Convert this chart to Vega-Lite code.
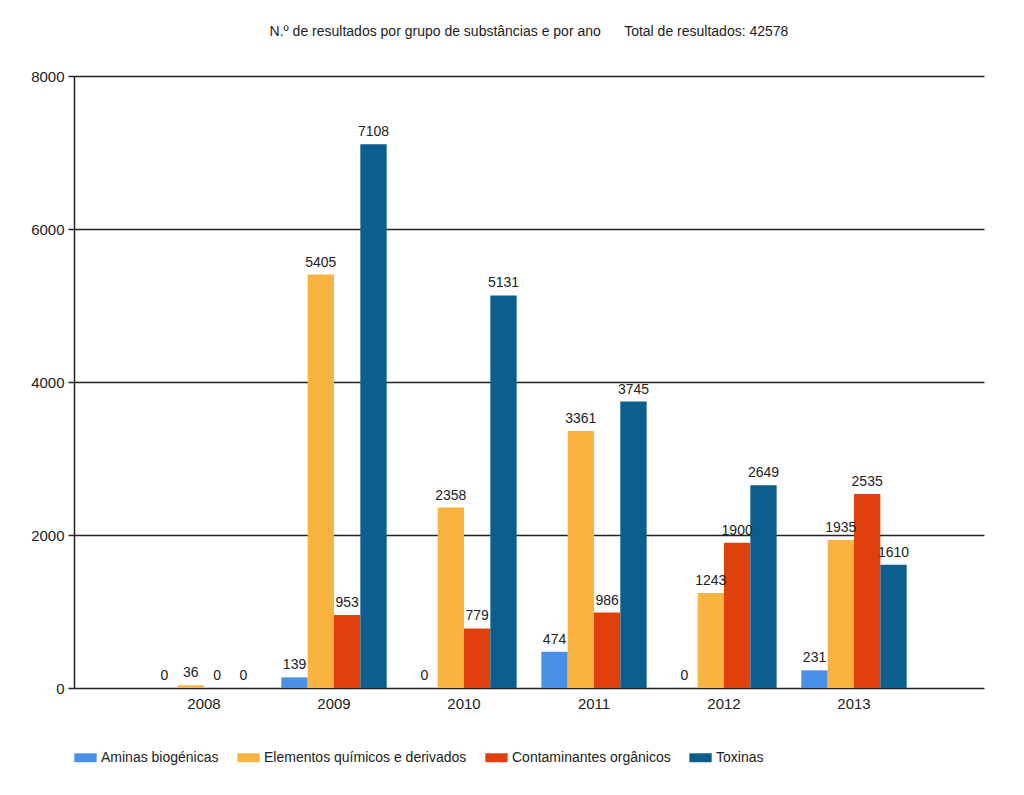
{
  "$schema": "https://vega.github.io/schema/vega-lite/v6.json",
  "width": 1024,
  "height": 795,
  "autosize": {"type": "fit", "contains": "padding"},
  "padding": {"left": 30, "right": 40, "top": 25, "bottom": 30},
  "background": "white",
  "config": {
    "font": "Liberation Sans",
    "view": {"stroke": null}
  },
  "title": {
    "text": "N.º de resultados por grupo de substâncias e por ano\u00a0\u00a0\u00a0\u00a0\u00a0\u00a0Total de resultados: 42578",
    "fontSize": 14,
    "fontWeight": "normal",
    "color": "#222222",
    "offset": 30
  },
  "data": {
    "values": [
      {"ano": "2008", "grupo": "Aminas biogénicas", "valor": 0},
      {"ano": "2008", "grupo": "Elementos químicos e derivados", "valor": 36},
      {"ano": "2008", "grupo": "Contaminantes orgânicos", "valor": 0},
      {"ano": "2008", "grupo": "Toxinas", "valor": 0},
      {"ano": "2009", "grupo": "Aminas biogénicas", "valor": 139},
      {"ano": "2009", "grupo": "Elementos químicos e derivados", "valor": 5405},
      {"ano": "2009", "grupo": "Contaminantes orgânicos", "valor": 953},
      {"ano": "2009", "grupo": "Toxinas", "valor": 7108},
      {"ano": "2010", "grupo": "Aminas biogénicas", "valor": 0},
      {"ano": "2010", "grupo": "Elementos químicos e derivados", "valor": 2358},
      {"ano": "2010", "grupo": "Contaminantes orgânicos", "valor": 779},
      {"ano": "2010", "grupo": "Toxinas", "valor": 5131},
      {"ano": "2011", "grupo": "Aminas biogénicas", "valor": 474},
      {"ano": "2011", "grupo": "Elementos químicos e derivados", "valor": 3361},
      {"ano": "2011", "grupo": "Contaminantes orgânicos", "valor": 986},
      {"ano": "2011", "grupo": "Toxinas", "valor": 3745},
      {"ano": "2012", "grupo": "Aminas biogénicas", "valor": 0},
      {"ano": "2012", "grupo": "Elementos químicos e derivados", "valor": 1243},
      {"ano": "2012", "grupo": "Contaminantes orgânicos", "valor": 1900},
      {"ano": "2012", "grupo": "Toxinas", "valor": 2649},
      {"ano": "2013", "grupo": "Aminas biogénicas", "valor": 231},
      {"ano": "2013", "grupo": "Elementos químicos e derivados", "valor": 1935},
      {"ano": "2013", "grupo": "Contaminantes orgânicos", "valor": 2535},
      {"ano": "2013", "grupo": "Toxinas", "valor": 1610}
    ]
  },
  "encoding": {
    "x": {
      "field": "ano",
      "type": "nominal",
      "scale": {"paddingInner": 0.19, "paddingOuter": 0.595},
      "axis": {
        "title": null,
        "labelAngle": 0,
        "ticks": false,
        "domain": false,
        "labelFontSize": 15,
        "labelColor": "#222222",
        "labelPadding": 8
      }
    },
    "xOffset": {
      "field": "grupo",
      "type": "nominal",
      "sort": ["Aminas biogénicas", "Elementos químicos e derivados", "Contaminantes orgânicos", "Toxinas"]
    },
    "y": {
      "field": "valor",
      "type": "quantitative",
      "scale": {"domain": [0, 8000], "nice": false},
      "axis": {
        "title": null,
        "values": [0, 2000, 4000, 6000, 8000],
        "format": "d",
        "grid": true,
        "gridColor": "#222222",
        "gridWidth": 1.5,
        "gridOpacity": 1,
        "domainColor": "#222222",
        "domainWidth": 1.5,
        "tickColor": "#222222",
        "tickSize": 6,
        "tickWidth": 1.5,
        "labelFontSize": 15,
        "labelColor": "#222222",
        "labelPadding": 4
      }
    }
  },
  "layer": [
    {
      "mark": {"type": "bar"},
      "encoding": {
        "color": {
          "field": "grupo",
          "type": "nominal",
          "sort": ["Aminas biogénicas", "Elementos químicos e derivados", "Contaminantes orgânicos", "Toxinas"],
          "scale": {
            "domain": ["Aminas biogénicas", "Elementos químicos e derivados", "Contaminantes orgânicos", "Toxinas"],
            "range": ["#4a8fe8", "#f9b341", "#e0400c", "#0b5e8e"]
          },
          "legend": {
            "title": null,
            "orient": "bottom",
            "direction": "horizontal",
            "symbolType": "M-1,-0.4H1V0.4H-1Z",
            "symbolSize": 500,
            "symbolStrokeWidth": 0,
            "labelFontSize": 14,
            "labelLimit": 400,
            "labelColor": "#222222",
            "columnPadding": 18,
            "offset": 35
          }
        }
      }
    },
    {
      "mark": {"type": "text", "dy": -12, "fontSize": 14, "color": "#222222"},
      "encoding": {
        "text": {"field": "valor", "type": "quantitative", "format": "d"}
      }
    }
  ]
}
